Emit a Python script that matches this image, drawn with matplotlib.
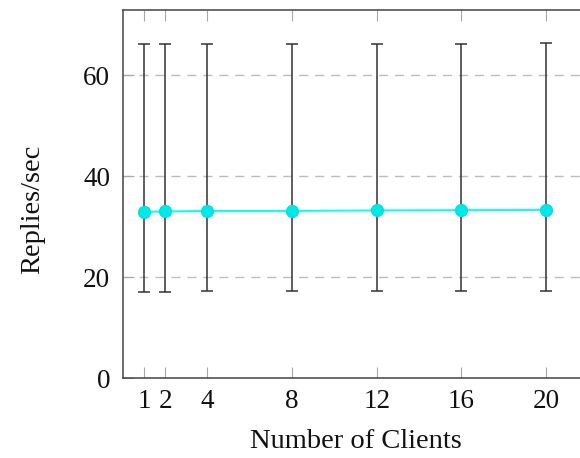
import matplotlib
matplotlib.use("Agg")
import matplotlib.pyplot as plt
import numpy as np

# Throughput measurements per client count
clients = [1, 2, 4, 8, 12, 16, 20]
replies_mean = [32.9, 33.0, 33.1, 33.1, 33.2, 33.25, 33.3]
replies_low = [17.1, 17.1, 17.15, 17.15, 17.2, 17.25, 17.3]
replies_high = [66.1, 66.1, 66.15, 66.15, 66.2, 66.25, 66.3]
x_ticks = [1, 2, 4, 8, 12, 16, 20]
y_ticks = [0, 20, 40, 60]

plt.rcParams["font.family"] = ["Liberation Serif", "DejaVu Serif"]

fig = plt.figure(figsize=(5.8, 4.58), dpi=100)
ax = fig.add_axes([0.2117, 1 - 378 / 458, 1.0143 - 0.2117, (378 - 10) / 458])

mean = np.array(replies_mean)
err = [mean - np.array(replies_low), np.array(replies_high) - mean]

ax.errorbar(clients, replies_mean, yerr=err, fmt="none", ecolor="#333333",
            elinewidth=1.1, capsize=4, capthick=1.1, zorder=2)
ax.plot(clients, replies_mean, color="#00ffff", lw=1.4, marker="o",
        markersize=8.5, markerfacecolor="#00e8e8", markeredgecolor="#00e0e0",
        zorder=3)

ax.set_xlim(0, 22)
ax.set_ylim(0, 72.9)
ax.set_xticks(x_ticks)
ax.set_yticks(y_ticks)

ax.yaxis.grid(True, color="#bdbdbd", lw=1.0, linestyle=(0, (6.5, 5)), zorder=0)
ax.set_axisbelow(True)

ax.tick_params(axis="both", direction="in", length=8, width=0.8,
               color="#a8a8a8", labelsize=19.5, labelcolor="#111111")
ax.tick_params(axis="x", top=True, pad=8)
ax.tick_params(axis="y", right=False, pad=9)

for side in ["left", "bottom", "top", "right"]:
    ax.spines[side].set_color("#444444")
    ax.spines[side].set_linewidth(1.1)

ax.set_xlabel("Number of Clients", fontsize=20.5, color="#111111", labelpad=11)
ax.set_ylabel("Replies/sec", fontsize=20.5, color="#111111")
ax.yaxis.set_label_coords(-0.167, 0.459)

fig.savefig("out.png", dpi=100)
